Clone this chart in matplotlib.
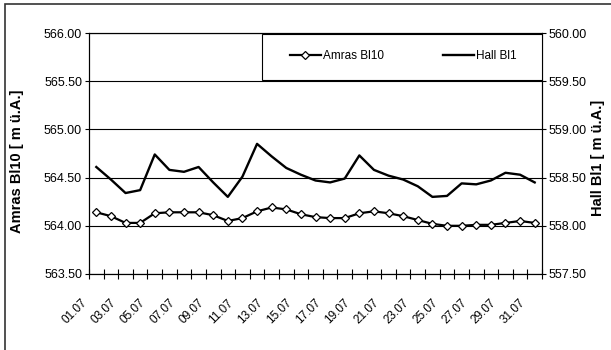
import numpy as np
import matplotlib
matplotlib.use("Agg")
import matplotlib.pyplot as plt
from matplotlib.patches import Rectangle
from matplotlib.transforms import ScaledTranslation
from matplotlib.ticker import FormatStrFormatter

plt.rcParams["font.family"] = ["Liberation Sans", "DejaVu Sans"]

days = [f"{d:02d}.07" for d in range(1, 32)]
amras_bl10 = [564.14, 564.10, 564.03, 564.03, 564.13, 564.14, 564.14, 564.14,
              564.11, 564.05, 564.08, 564.15, 564.19, 564.17, 564.12, 564.09,
              564.08, 564.08, 564.13, 564.15, 564.13, 564.10, 564.06, 564.02,
              564.00, 564.00, 564.01, 564.01, 564.03, 564.05, 564.03]
hall_bl1 = [558.61, 558.48, 558.34, 558.37, 558.74, 558.58, 558.56, 558.61,
            558.45, 558.30, 558.51, 558.85, 558.72, 558.60, 558.53, 558.47,
            558.45, 558.49, 558.73, 558.58, 558.52, 558.48, 558.41, 558.30,
            558.31, 558.44, 558.43, 558.47, 558.55, 558.53, 558.45]

fig = plt.figure(figsize=(6.11, 3.5), dpi=100)
ax = fig.add_axes([89 / 611, 76 / 350, 453 / 611, 241 / 350])
ax2 = ax.twinx()

x = np.arange(len(days))

# gridlines on the left scale
for v in np.arange(563.5, 566.01, 0.5):
    ax.axhline(v, color="black", lw=0.8, zorder=1)

ax.plot(x, amras_bl10, color="black", lw=1.6, marker="D", ms=4.3,
        mfc="white", mec="black", mew=0.9, zorder=3, label="Amras Bl10")
ax2.plot(x, hall_bl1, color="black", lw=1.7, zorder=3, label="Hall Bl1")

ax.set_xlim(-0.5, len(days) - 0.5)
ax.set_ylim(563.5, 566.0)
ax2.set_ylim(557.5, 560.0)
ax.set_yticks(np.arange(563.5, 566.01, 0.5))
ax2.set_yticks(np.arange(557.5, 560.01, 0.5))
ax.yaxis.set_major_formatter(FormatStrFormatter("%.2f"))
ax2.yaxis.set_major_formatter(FormatStrFormatter("%.2f"))

# tick marks between categories, labels on every second day
ax.set_xticks(np.arange(-0.5, len(days), 1.0))
ax.set_xticklabels([])
ax.set_xticks(x[::2], days[::2], minor=True)
ax.tick_params(axis="x", which="major", direction="inout", length=7, width=0.8)
ax.tick_params(axis="x", which="minor", length=0, labelsize=8.5, pad=0)
offset = ScaledTranslation(-0.11, -0.27, fig.dpi_scale_trans)
for lab in ax.get_xticklabels(minor=True):
    lab.set_rotation(45)
    lab.set_rotation_mode("anchor")
    lab.set_ha("right")
    lab.set_va("center")
    lab.set_transform(lab.get_transform() + offset)

ax.tick_params(axis="y", direction="out", length=3, width=0.8, labelsize=9, pad=2)
ax2.tick_params(axis="y", direction="out", length=3, width=0.8, labelsize=9, pad=2)

for a in (ax, ax2):
    for s in a.spines.values():
        s.set_linewidth(0.8)
        s.set_color("black")

fig.text(17 / 611, 1 - 161 / 350, "Amras Bl10 [ m ü.A.]", rotation=90,
         ha="center", va="center", fontsize=10.5, fontweight="bold")
fig.text(598 / 611, 1 - 158 / 350, "Hall Bl1 [ m ü.A.]", rotation=90,
         ha="center", va="center", fontsize=10.5, fontweight="bold")

# legend box along the top right
ax2.add_patch(Rectangle((173 / 453, 1 - 47 / 241), 280 / 453, 46 / 241,
                        transform=ax2.transAxes, facecolor="white",
                        edgecolor="black", lw=0.8, zorder=4))
h1, l1 = ax.get_legend_handles_labels()
h2, l2 = ax2.get_legend_handles_labels()
leg = ax2.legend(h1 + h2, l1 + l2, ncol=2, frameon=False, fontsize=8.5,
                 loc="center left", bbox_to_anchor=(201 / 453, 1 - 23 / 241),
                 borderpad=0, borderaxespad=0, handlelength=2.6,
                 handletextpad=0.2, columnspacing=5.0)
leg.set_zorder(5)

# outer frame
fig.patches.append(Rectangle((5 / 611, -0.1), 1.1, 0.1 + 346 / 350,
                             transform=fig.transFigure, facecolor="none",
                             edgecolor="#333333", lw=1.2))

fig.savefig("out.png", dpi=100)
